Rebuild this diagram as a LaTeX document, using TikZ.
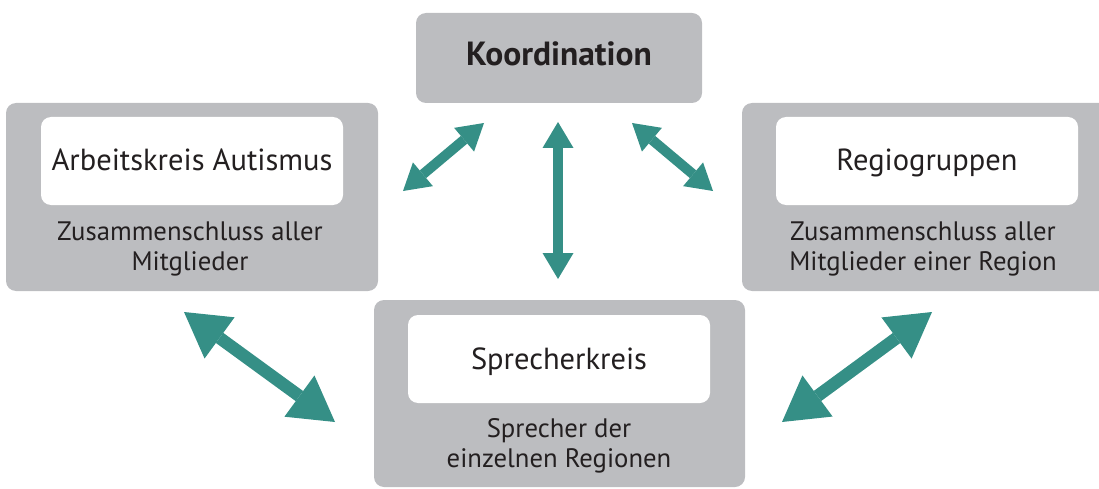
\documentclass[tikz,border=0pt]{standalone}
\usepackage{fontspec}
\setmainfont{PT Sans}
\usetikzlibrary{arrows.meta}
\definecolor{boxgray}{RGB}{188,189,192}
\definecolor{tealarrow}{RGB}{53,143,134}
\definecolor{ink}{RGB}{35,31,32}
\tikzset{
  graybox/.style={draw=none, fill=boxgray, rounded corners=10pt, inner sep=0pt},
  whitebox/.style={draw=none, fill=white, rounded corners=10pt, inner sep=0pt,
    minimum width=302pt, minimum height=88pt, text=ink,
    font=\fontsize{30.5}{34}\selectfont, text height=20pt, text depth=0pt},
  subtext/.style={text=ink, align=center, font=\fontsize{26.7}{30}\selectfont, inner sep=0pt},
  smallarrow/.style={draw=tealarrow, fill=tealarrow, line width=10pt,
    {Triangle[length=26pt,width=31pt,line width=0pt]}-{Triangle[length=26pt,width=31pt,line width=0pt]}},
  bigarrow/.style={draw=tealarrow, fill=tealarrow, line width=12.5pt,
    {Triangle[length=44pt,width=51pt,line width=0pt]}-{Triangle[length=44pt,width=51pt,line width=0pt]}}
}
\begin{document}
\begin{tikzpicture}[x=1pt,y=-1pt]
\useasboundingbox (0,0) rectangle (1099,489);
\clip (0,0) rectangle (1099,489);
% top box
\node[graybox, minimum width=286pt, minimum height=90pt, text=ink,
  font=\fontsize{33.5}{38}\selectfont\bfseries, text height=22pt, text depth=6pt] (koord) at (559,58) {Koordination};
% left
\node[graybox, minimum width=372pt, minimum height=188pt] (left) at (192,197) {};
\node[whitebox] (leftin) at (192,161) {Arbeitskreis Autismus};
\node[subtext] (leftsub) at (190,248.5) {Zusammenschluss aller\\Mitglieder};
% right
\node[graybox, minimum width=368pt, minimum height=188pt] (right) at (926,197) {};
\node[whitebox] (rightin) at (927,161) {Regiogruppen};
\node[subtext] (rightsub) at (923,248.5) {Zusammenschluss aller\\Mitglieder einer Region};
% bottom
\node[graybox, minimum width=371pt, minimum height=187pt] (bottom) at (559.5,393.5) {};
\node[whitebox] (bottomin) at (559,359) {Sprecherkreis};
\node[subtext] (bottomsub) at (559,445.5) {Sprecher der\\einzelnen Regionen};
% arrow ends
\coordinate (a1s) at (484,123); \coordinate (a1e) at (403,191);
\coordinate (a2s) at (558,122); \coordinate (a2e) at (558,279);
\coordinate (a3s) at (632,123); \coordinate (a3e) at (713,191);
\coordinate (a4s) at (184,312); \coordinate (a4e) at (335,422);
\coordinate (a5s) at (932,312); \coordinate (a5e) at (782,422);
\draw[smallarrow] (a1s) -- (a1e);
\draw[smallarrow] (a2s) -- (a2e);
\draw[smallarrow] (a3s) -- (a3e);
\draw[bigarrow] (a4s) -- (a4e);
\draw[bigarrow] (a5s) -- (a5e);
\end{tikzpicture}
\end{document}
